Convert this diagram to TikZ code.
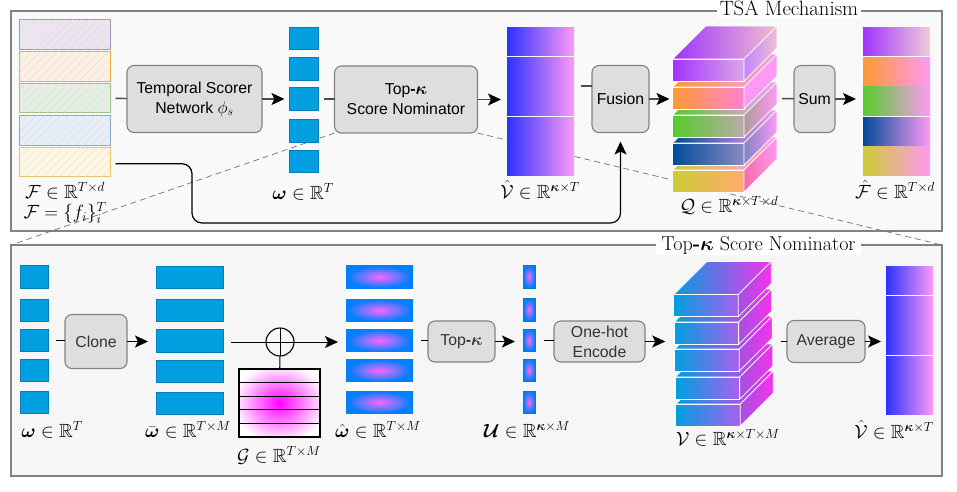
\documentclass[tikz,border=0pt]{standalone}
\usepackage{amsmath}
\usepackage{amssymb}
\usepackage{fontspec}
\usepackage{tikz}
\usetikzlibrary{arrows.meta, patterns.meta, backgrounds, calc}
\newfontfamily\boxfont{Liberation Sans}
\definecolor{scoreBlue}{RGB}{0,159,223}
\definecolor{scoreEdge}{RGB}{0,125,190}
\definecolor{boxGray}{RGB}{222,222,222}
\definecolor{edgeGray}{RGB}{130,130,130}
\definecolor{valueBlue}{RGB}{45,50,255}
\definecolor{valuePink}{RGB}{255,153,245}
\definecolor{hotMagenta}{RGB}{245,50,238}
\definecolor{tokenSide}{RGB}{165,80,225}
\definecolor{tokenFront}{RGB}{170,95,238}
\definecolor{layerPurple}{RGB}{160,51,255}
\definecolor{layerOrange}{RGB}{255,153,51}
\definecolor{layerGreen}{RGB}{85,204,43}
\definecolor{layerBlue}{RGB}{0,76,153}
\definecolor{layerYellow}{RGB}{204,204,51}
\pgfdeclareradialshading{gaussBlob}{\pgfpoint{0bp}{0bp}}{rgb(0bp)=(1,0,1); rgb(29bp)=(1,1,1); rgb(50bp)=(1,1,1)}
\pgfdeclareradialshading{tokenBlob}{\pgfpoint{0bp}{0bp}}{rgb(0bp)=(1,0.4,1); rgb(24bp)=(0,0.5,1); rgb(50bp)=(0,0.5,1)}

% slab of a block: name, x, y, front colours, side colours
\newcommand{\slab}[7]{
    \node[slabfront, left color=#4, right color=#5] (#1) at (#2,#3) {};
    \shade[draw=white, line width=0.7pt, left color=#4, right color=#7] (#1.north west) -- ++(33,-33) -- ($(#1.north east)+(33,-33)$) -- (#1.north east) -- cycle;
    \shade[draw=white, line width=0.7pt, left color=#6, right color=#7] (#1.north east) -- ++(33,-33) -- ($(#1.south east)+(33,-33)$) -- (#1.south east) -- cycle;
}
\newcommand{\bigkappa}{\mbox{\LARGE$\boldsymbol{\kappa}$}}

\begin{document}
\begin{tikzpicture}[
    x=1pt, y=-1pt,
    panel/.style={rectangle, draw=edgeGray, line width=1.2pt, minimum width=931pt, outer sep=0pt},
    title/.style={fill=white, inner sep=0pt, minimum height=20pt, font=\huge},
    module/.style={rectangle, rounded corners=7pt, align=center, fill=boxGray, draw=edgeGray, line width=1.1pt, inner sep=0pt, outer sep=0pt, font=\boxfont\fontsize{15.8}{20}\selectfont},
    cell/.style={rectangle, inner sep=0pt, outer sep=0pt},
    score/.style={cell, fill=scoreBlue, draw=scoreEdge, line width=0.6pt},
    feature/.style={cell, line width=1pt, minimum width=91pt, postaction={pattern={Lines[angle=45,distance=6pt,line width=0.3pt]}, pattern color=black!14}},
    slabfront/.style={cell, draw=white, line width=0.7pt, minimum height=22pt},
    mathlabel/.style={inner sep=0pt, font=\huge, scale=0.92},
    link/.style={draw=black!70, line width=1.4pt, shorten <=5pt},
    arrow/.style={link, -{Stealth[length=13pt, width=12pt, inset=3pt, black]}},
    thinlink/.style={link, draw=black, line width=1pt},
    thinarrow/.style={arrow, draw=black, line width=1pt},
    dashline/.style={draw=black!55, dashed, dash pattern=on 6pt off 4pt, line width=0.7pt}
]
\useasboundingbox (0,0) rectangle (957,491);

% Panels
\begin{scope}[on background layer]
\node[panel, fill=black!2.5, minimum height=220pt] (tsaPanel) at (476.5,121) {};
\node[panel, fill=black!3.5, minimum height=231pt] (nomPanel) at (476.5,360.5) {};
\end{scope}
\node[title, minimum width=144pt] (tsaTitle) at (789,8) {TSA Mechanism};
\node[title, scale=0.97, minimum width=211pt] (nomTitle) at (758.5,245) {Top\textbf{-}$\boldsymbol{\kappa}$ Score Nominator};

% Input features
\node[feature, fill={rgb,255:red,236;green,229;blue,240}, draw={rgb,255:red,175;green,140;blue,190}, minimum height=30pt] (feat1) at (65,34.5) {};
\node[feature, fill={rgb,255:red,253;green,240;blue,226}, draw={rgb,255:red,240;green,170;blue,60}, minimum height=30pt] (feat2) at (65,66) {};
\node[feature, fill={rgb,255:red,228;green,238;blue,226}, draw={rgb,255:red,150;green,195;blue,130}, minimum height=29pt] (feat3) at (65,98) {};
\node[feature, fill={rgb,255:red,230;green,238;blue,248}, draw={rgb,255:red,130;green,165;blue,210}, minimum height=29.5pt] (feat4) at (65,130.25) {};
\node[feature, fill={rgb,255:red,253;green,246;blue,224}, draw={rgb,255:red,235;green,195;blue,100}, minimum height=29.5pt] (feat5) at (65,161.75) {};
\node[mathlabel] (featLabelA) at (65,191) {$\mathcal{F}\in\mathbb{R}^{T\times d}$};
\node[mathlabel] (featLabelB) at (65,213) {$\mathcal{F}=\{f_i\}_i^T$};

% Top row modules
\node[module, minimum width=135pt, minimum height=67pt] (scorer) at (194.5,99) {Temporal Scorer\\Network \mbox{\LARGE$\phi_s$}};
\node[module, minimum width=143pt, minimum height=67pt] (nominator) at (406,99.5) {Top\textbf{-}\bigkappa\\Score Nominator};
\node[module, minimum width=57pt, minimum height=67pt] (fusion) at (620.5,99) {Fusion};
\node[module, minimum width=41pt, minimum height=67pt] (sum) at (814.5,99) {Sum};

% Zoom lines to the lower panel
\begin{scope}[on background layer]
\draw[dashline] (nominator.south west) -- (nomPanel.north west);
\draw[dashline] (nominator.south east) -- (nomPanel.north east);
\end{scope}

% Scores
\foreach \i/\y in {1/38.25, 2/68.75, 3/99, 4/130.75, 5/161.25}
    \node[score, minimum width=28.5pt, minimum height=22.5pt] (omega\i) at (303.75,\y) {};
\node[mathlabel] (omegaLabel) at (303,192) {$\boldsymbol{\omega}\in\mathbb{R}^{T}$};

% Values
\foreach \i/\y/\h in {1/41/28, 2/86/58, 3/146/58}
    \node[cell, left color=valueBlue, right color=valuePink, minimum width=67pt, minimum height=\h pt] (vhat\i) at (540.5,\y) {};
\node[mathlabel] (vhatLabel) at (540,190) {$\hat{\mathcal{V}}\in\mathbb{R}^{\boldsymbol{\kappa}\times T}$};

% Fused block, bottom slab first
\begin{scope}[slabfront/.append style={minimum width=71.5pt}]
\slab{q5}{708.25}{181}{layerYellow}{red!35!valuePink!60!yellow!90!white}{red!30!valuePink!90!gray}{valuePink}
\slab{q4}{708.25}{154}{layerBlue}{blue!30!gray!70!white}{blue!40!gray!70!white}{valuePink}
\slab{q3}{708.25}{126}{layerGreen}{red!12!gray!60!white}{red!12!gray!70!white}{valuePink}
\slab{q2}{708.25}{98}{layerOrange}{red!15!valuePink}{valuePink}{valuePink}
\slab{q1}{708.25}{70}{layerPurple}{purple!30!layerPurple!40!white}{layerPurple!60!white}{purple!25!white}
\end{scope}
\node[mathlabel] (qLabel) at (729,205) {$\mathcal{Q}\in\mathbb{R}^{\boldsymbol{\kappa}\times T\times d}$};

% Output features
\foreach \i/\y/\h/\l/\r in {1/41/28/layerPurple/purple!20!white, 2/71.5/29/layerOrange/valuePink, 3/100.5/29/layerGreen/valuePink, 4/131.5/29/layerBlue/valuePink, 5/160.5/29/layerYellow/valuePink}
    \node[cell, left color=\l, right color=\r, minimum width=67pt, minimum height=\h pt] (fhat\i) at (896.5,\y) {};
\node[mathlabel] (fhatLabel) at (895,190) {$\hat{\mathcal{F}}\in\mathbb{R}^{T\times d}$};

% Top row arrows
\draw[link] (feat3) -- (scorer);
\draw[arrow, shorten <=0pt, shorten >=5pt] (scorer) -- (scorer -| omega3.west);
\draw[link, shorten <=6pt] (omega3.east) -- (omega3.east -| nominator.west);
\draw[arrow, shorten <=0pt, shorten >=6pt] (nominator) -- (nominator -| vhat2.west);
\draw[link, shorten <=7pt] (vhat2.east) -- (vhat2.east -| fusion.west);
\draw[arrow, shorten <=0pt, shorten >=3pt] (fusion) -- (fusion -| q2.west);
\draw[link, shorten <=38pt] (q2.east) -- (sum);
\draw[arrow, shorten <=0pt, shorten >=7pt] (sum) -- (sum -| fhat2.west);
\coordinate (routeBend) at (192,223);
\draw[arrow, draw=black, line width=1.2pt, rounded corners=10pt, shorten >=9pt] ([yshift=-2pt]feat5.east) -- ([yshift=-2pt]feat5.east -| routeBend) -- (routeBend) -- (routeBend -| fusion.south) -- (fusion.south);

% Lower row
\foreach \i/\y in {1/276.75, 2/310.25, 3/340.25, 4/370.25, 5/402.25}
    \node[score, minimum width=28.5pt, minimum height=22.5pt] (token\i) at (34.25,\y) {};
\node[mathlabel] (tokenLabel) at (52,430) {$\boldsymbol{\omega}\in\mathbb{R}^{T}$};
\node[module, text=black!80, minimum width=62pt, minimum height=54pt] (clone) at (96,341.5) {Clone};

\foreach \i/\y in {1/277.25, 2/310.25, 3/341, 4/371.25, 5/403.25}
    \node[score, minimum width=67pt, minimum height=22.5pt] (wbar\i) at (189.5,\y) {};
\node[mathlabel] (wbarLabel) at (188,430) {$\bar{\boldsymbol{\omega}}\in\mathbb{R}^{T\times M}$};

\node[circle, draw=black, line width=1.1pt, minimum size=28pt, inner sep=0pt, outer sep=0pt] (oplus) at (280,342) {};
\draw[black, line width=1pt] (oplus.north) -- (oplus.south);
\draw[black, line width=1pt] (oplus.west) -- (oplus.east);

\node[cell, draw=black, line width=1.2pt, shade, shading=gaussBlob, minimum width=81pt, minimum height=68pt] (gauss) at (279.5,403) {};
\foreach \t in {0.2, 0.4, 0.6, 0.8}
    \draw[black, line width=1.1pt] ($(gauss.north west)!\t!(gauss.south west)$) -- ($(gauss.north east)!\t!(gauss.south east)$);
\node[mathlabel] (gaussLabel) at (279,455) {$\mathcal{G}\in\mathbb{R}^{T\times M}$};

\node[cell, fill=white, minimum width=67pt, minimum height=148pt] (hatBack) at (379.5,339.5) {};
\foreach \i/\y in {1/276.75, 2/310.25, 3/340.5, 4/370.5, 5/402.25}
    \node[cell, shade, shading=tokenBlob, minimum width=67pt, minimum height=22.5pt] (what\i) at (379.5,\y) {};
\node[mathlabel] (whatLabel) at (378,430) {$\hat{\boldsymbol{\omega}}\in\mathbb{R}^{T\times M}$};

\node[module, text=black!80, minimum width=67pt, minimum height=41pt] (topk) at (461.5,341.5) {Top\textbf{-}\bigkappa};

\foreach \i/\y in {1/276.5, 2/309.75, 3/340.25, 4/370.25, 5/402.25}
    \node[cell, shade, shading=tokenBlob, draw=scoreEdge, line width=0.4pt, minimum width=12pt, minimum height=22.5pt] (unit\i) at (529,\y) {};
\node[mathlabel] (unitLabel) at (527,430) {$\boldsymbol{\mathcal{U}}\in\mathbb{R}^{\boldsymbol{\kappa}\times M}$};

\node[module, text=black!80, minimum width=91pt, minimum height=41pt] (onehot) at (599.5,341.5) {One-hot\\Encode};

% Token block, bottom slab first
\begin{scope}[slabfront/.append style={minimum width=64.5pt}]
\slab{v5}{708}{415}{scoreBlue}{tokenFront}{tokenSide}{hotMagenta}
\slab{v4}{707.5}{388}{scoreBlue}{tokenFront}{tokenSide}{hotMagenta}
\slab{v3}{707}{360}{scoreBlue}{tokenFront}{tokenSide}{hotMagenta}
\slab{v2}{706.5}{333}{scoreBlue}{tokenFront}{tokenSide}{hotMagenta}
\slab{v1}{706}{305.5}{scoreBlue}{tokenFront}{tokenSide}{hotMagenta}
\end{scope}
\node[mathlabel] (vLabel) at (728,438) {$\mathcal{V}\in\mathbb{R}^{\boldsymbol{\kappa}\times T\times M}$};

\node[module, text=black!80, minimum width=78pt, minimum height=42pt] (average) at (826,341.5) {Average};

\foreach \i/\y/\h in {1/280/28, 2/325/58, 3/385/58}
    \node[cell, left color=valueBlue, right color=valuePink, minimum width=47pt, minimum height=\h pt] (vmean\i) at (909.5,\y) {};
\node[mathlabel] (vmeanLabel) at (894,430) {$\hat{\mathcal{V}}\in\mathbb{R}^{\boldsymbol{\kappa}\times T}$};

% Lower row arrows
\draw[thinlink, shorten <=7pt] (token3.east) -- (token3.east -| clone.west);
\draw[thinarrow, shorten <=0pt, shorten >=8pt] (clone) -- (clone -| wbar3.west);
\draw[thinlink, shorten <=8pt] (oplus -| wbar3.east) -- (oplus);
\draw[thinarrow, shorten <=0pt, shorten >=8pt] (oplus) -- (oplus -| what3.west);
\draw[draw=black, line width=1.1pt] (oplus) -- (gauss);
\draw[thinlink, shorten <=8pt] (what3.east) -- (what3.east -| topk.west);
\draw[thinarrow, shorten <=0pt, shorten >=8pt] (topk) -- (topk -| unit3.west);
\draw[thinlink, shorten <=9pt] (unit3.east) -- (unit3.east -| onehot.west);
\draw[thinarrow, shorten <=0pt, shorten >=9pt] (onehot) -- (onehot -| v2.west);
\draw[thinlink, shorten <=42pt] (average -| v3.east) -- (average);
\draw[thinarrow, shorten <=0pt, shorten >=5pt] (average) -- (average -| vmean2.west);

\end{tikzpicture}
\end{document}
